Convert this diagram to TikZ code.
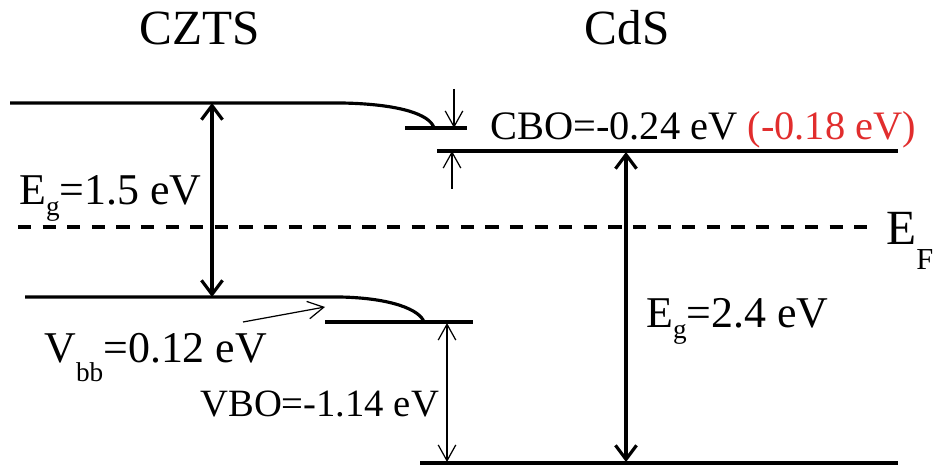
\documentclass[tikz,border=0pt]{standalone}
\usepackage{fontspec}
\setmainfont{Liberation Serif}
\usetikzlibrary{arrows.meta}
\definecolor{offsetred}{RGB}{225,45,45}
\newcommand{\lowsub}[2][-0.5ex]{\raisebox{#1}{\scalebox{0.62}{#2}}}
\begin{document}
\begin{tikzpicture}[x=0.02cm, y=-0.02cm,
    level/.style={line width=1.8pt},
    gaparrow/.style={{Straight Barb[length=8pt,width=12pt]}-{Straight Barb[length=8pt,width=12pt]}, line width=1.8pt},
    thinarrow/.style={-{Straight Barb[length=9pt,width=10pt]}, line width=0.7pt},
    thingap/.style={{Straight Barb[length=9pt,width=10pt]}-{Straight Barb[length=9pt,width=10pt]}, line width=0.7pt},
    lbl/.style={anchor=base west, inner sep=0pt, font=\fontsize{25}{28}\selectfont}]
    \useasboundingbox (0,0) rectangle (937,469);

    % Material names
    \node[font=\fontsize{28}{32}\selectfont, anchor=base] (czts) at (200,45) {CZTS};
    \node[font=\fontsize{28}{32}\selectfont, anchor=base] (cds) at (627,45) {CdS};

    % CZTS conduction band with bending
    \coordinate (cbL) at (10,103);
    \coordinate (cbB) at (342,103);
    \coordinate (cbE) at (434,128);
    \coordinate (cbsL) at (405,128);
    \coordinate (cbsR) at (467,128);
    \draw[level] (cbL) -- (cbB) .. controls (398,104) and (430,114) .. (cbE);
    \draw[level] (cbsL) -- (cbsR);

    % CdS conduction band
    \coordinate (cdcL) at (437,151);
    \coordinate (cdcR) at (898,151);
    \draw[level] (cdcL) -- (cdcR);

    % CZTS valence band with bending
    \coordinate (vbL) at (25,297);
    \coordinate (vbB) at (340,297);
    \coordinate (vbE) at (424,322);
    \coordinate (vbsL) at (325,322);
    \coordinate (vbsR) at (473,322);
    \draw[level] (vbL) -- (vbB) .. controls (392,298) and (420,310) .. (vbE);
    \draw[level] (vbsL) -- (vbsR);

    % CdS valence band
    \coordinate (cdvL) at (420,463);
    \coordinate (cdvR) at (898,463);
    \draw[level] (cdvL) -- (cdvR);

    % Fermi level
    \coordinate (efL) at (18,227);
    \coordinate (efR) at (874,227);
    \draw[line width=2pt, dash pattern=on 7.5pt off 6.5pt] (efL) -- (efR);
    \node[anchor=base west, inner sep=0pt, font=\fontsize{28}{32}\selectfont] (ef) at (886,245) {E\lowsub[-1.1ex]{F}};

    % Band gaps
    \coordinate (gapA) at (212,103);
    \coordinate (gapB) at (212,297);
    \draw[gaparrow] (gapA) -- (gapB);
    \coordinate (gapC) at (626,152);
    \coordinate (gapD) at (626,462);
    \draw[gaparrow] (gapC) -- (gapD);
    \node[lbl] (egczts) at (19,205) {E\lowsub{g}=1.5 eV};
    \node[lbl] (egcds) at (646,328) {E\lowsub{g}=2.4 eV};

    % Conduction band offset
    \coordinate (cboT) at (454,89);
    \coordinate (cboB) at (452,189);
    \draw[thinarrow] (cboT) -- (cbsR -| cboT);
    \draw[thinarrow] (cboB) -- (cdcL -| cboB);
    \node[lbl, font=\fontsize{23}{27}\selectfont] (cbo) at (490,140) {CBO=-0.24 eV \textcolor{offsetred}{(-0.18 eV)}};

    % Valence band offset
    \coordinate (vboT) at (447,323);
    \coordinate (vboB) at (447,462);
    \draw[thingap] (vboT) -- (vboB);
    \node[lbl, font=\fontsize{22}{26}\selectfont] (vbo) at (200,417) {VBO=-1.14 eV};

    % Band bending
    \coordinate (vbbT) at (243,322);
    \coordinate (vbbH) at (325,307);
    \draw[thinarrow] (vbbT) -- (vbbH);
    \node[lbl] (vbb) at (44,363) {V\lowsub[-0.9ex]{bb}=0.12 eV};
\end{tikzpicture}
\end{document}
